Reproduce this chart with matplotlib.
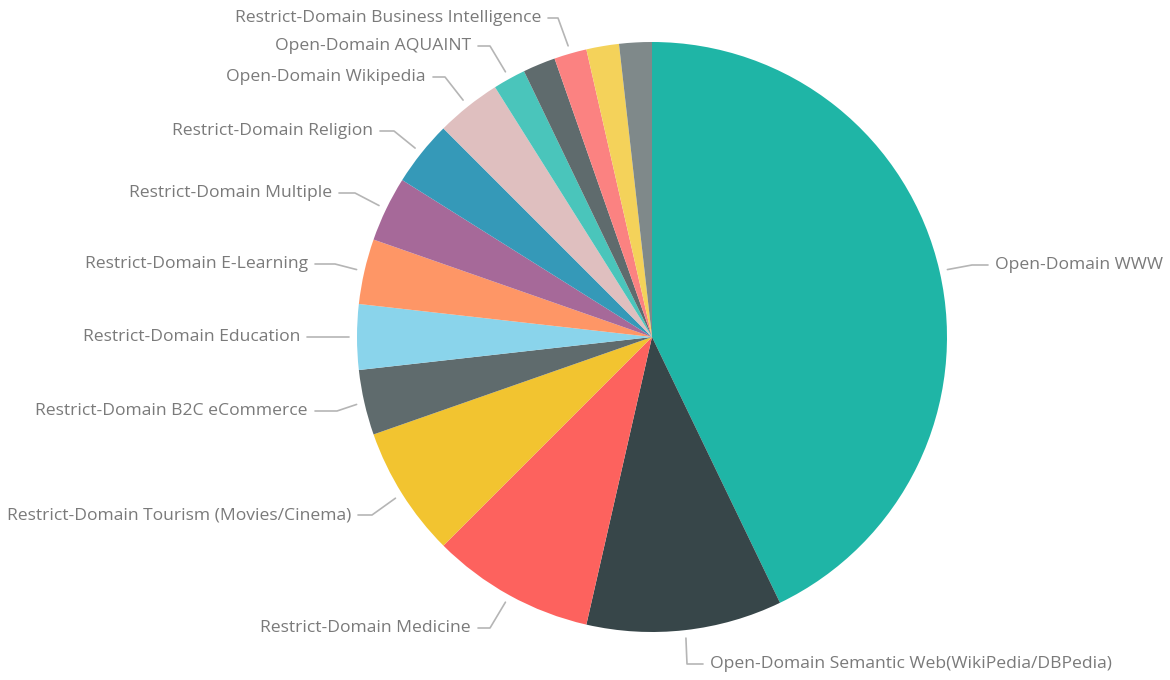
import numpy as np
import matplotlib
matplotlib.use("Agg")
import matplotlib.pyplot as plt

# Slices in clockwise order, starting at 12 o'clock
categories = [
    "Open-Domain WWW",
    "Open-Domain Semantic Web(WikiPedia/DBPedia)",
    "Restrict-Domain Medicine",
    "Restrict-Domain Tourism (Movies/Cinema)",
    "Restrict-Domain B2C eCommerce",
    "Restrict-Domain Education",
    "Restrict-Domain E-Learning",
    "Restrict-Domain Multiple",
    "Restrict-Domain Religion",
    "Open-Domain Wikipedia",
    "Open-Domain AQUAINT",
    "",
    "Restrict-Domain Business Intelligence",
    "",
    "",
]
counts = [24, 6, 5, 4, 2, 2, 2, 2, 2, 2, 1, 1, 1, 1, 1]
colors = [
    "#1FB5A6", "#374649", "#FD625E", "#F2C430", "#5F6B6D",
    "#8AD4EB", "#FE9666", "#A66999", "#3599B8", "#DFBFBF",
    "#4AC5BB", "#5F6B6D", "#FB8281", "#F4D25A", "#7F898A",
]

# Label placement in pixels: (text x, text y, elbow x, side)
label_layout = {
    0: (995, 265, 972, "right"),
    1: (710, 664, 687, "right"),
    2: (471, 628, 490, "left"),
    3: (351, 515, 372, "left"),
    4: (308, 411, 337, "left"),
    5: (300, 337, 330, "left"),
    6: (308, 264, 335, "left"),
    7: (332, 193, 355, "left"),
    8: (373, 131, 394, "left"),
    9: (426, 77, 445, "left"),
    10: (471, 46, 490, "left"),
    12: (541, 18, 558, "left"),
}

W, H = 1170, 680
CX, CY, R = 652, 337, 295


def px(x, y):
    return (x - CX) / R, (CY - y) / R


fig = plt.figure(figsize=(W / 100, H / 100), dpi=100)
ax = fig.add_axes([0, 0, 1, 1])
ax.axis("off")

wedges, _ = ax.pie(
    counts,
    colors=colors,
    startangle=90,
    counterclock=False,
    radius=1.0,
    center=(0, 0),
    wedgeprops=dict(linewidth=0),
)

ax.set_aspect("auto")
x0, y0 = px(0, H)
x1, y1 = px(W, 0)
ax.set_xlim(x0, x1)
ax.set_ylim(y0, y1)

text_color = "#7A7A7A"
line_color = "#B5B5B5"
gap = 8 / R

for idx, (tx, ty, ex, side) in label_layout.items():
    w = wedges[idx]
    mid = np.deg2rad((w.theta1 + w.theta2) / 2)
    sx, sy = (1 + gap) * np.cos(mid), (1 + gap) * np.sin(mid)
    exd, eyd = px(ex, ty)
    if side == "right":
        endx, _ = px(tx - 7, ty)
        ha = "left"
    else:
        endx, _ = px(tx + 7, ty)
        ha = "right"
    ax.plot([sx, exd, endx], [sy, eyd, eyd], color=line_color, lw=1.2,
            solid_capstyle="round", solid_joinstyle="round")
    lx, ly = px(tx, ty)
    ax.text(lx, ly, categories[idx], ha=ha, va="center", color=text_color,
            fontsize=12.6, family=["Open Sans", "DejaVu Sans"])

fig.savefig("out.png", dpi=100, facecolor="white")
